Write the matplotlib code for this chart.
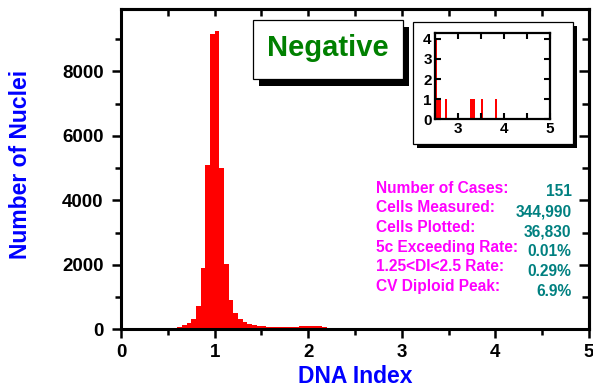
import matplotlib
matplotlib.use("Agg")
import matplotlib.pyplot as plt
from matplotlib.patches import Rectangle

plt.rcParams['font.family'] = ['Liberation Sans', 'DejaVu Sans']
plt.rcParams['font.weight'] = 'bold'

# ---- data ----
bin_start = [0.50, 0.55, 0.60, 0.65, 0.70, 0.75, 0.80, 0.85, 0.90, 0.95,
             1.00, 1.05, 1.10, 1.15, 1.20, 1.25, 1.30, 1.35, 1.40, 1.45,
             1.50, 1.55, 1.60, 1.65, 1.70, 1.75, 1.80, 1.85, 1.90, 1.95,
             2.00, 2.05, 2.10, 2.15, 2.20, 2.25]
counts = [40, 50, 60, 125, 205, 330, 710, 1910, 5090, 9150,
          9240, 5010, 2015, 910, 515, 330, 215, 165, 130, 100,
          90, 80, 75, 70, 70, 70, 75, 85, 100, 110,
          105, 100, 90, 80, 55, 30]
bin_width = 0.05

inset_di = [2.525, 2.575, 2.62, 2.755, 3.285, 3.345, 3.525, 3.83]
inset_counts = [4, 1, 1, 1, 1, 1, 1, 1]

stat_labels = ["Number of Cases:", "Cells Measured:", "Cells Plotted:",
               "5c Exceeding Rate:", "1.25<DI<2.5 Rate:", "CV Diploid Peak:"]
stat_values = ["151", "344,990", "36,830", "0.01%", "0.29%", "6.9%"]

title_text = "Negative"
xlabel = "DNA Index"
ylabel = "Number of Nuclei"

# ---- layout helpers ----
W, H = 593, 390
fig = plt.figure(figsize=(W / 100, H / 100), dpi=100)
fig.patch.set_facecolor('white')

def fx(px):
    return px / W

def fy(py):
    return 1 - py / H

# ---- main axes ----
ax = fig.add_axes([fx(121), fy(329.3), (589 - 121) / W, (329.3 - 9) / H])
ax.bar(bin_start, counts, width=bin_width, align='edge', color='#FF0000',
       edgecolor='none', linewidth=0)
ax.set_xlim(0, 5)
ax.set_ylim(0, 9930)
ax.set_xticks([0, 1, 2, 3, 4, 5])
ax.set_xticks([0.5, 1.5, 2.5, 3.5, 4.5], minor=True)
ax.set_yticks([0, 2000, 4000, 6000, 8000])
ax.set_yticks([1000, 3000, 5000, 7000, 9000], minor=True)
for s in ax.spines.values():
    s.set_linewidth(2.2)
ax.tick_params(which='major', direction='out', length=6.5, width=1.8,
               labelsize=13.5, pad=4)
ax.tick_params(axis='y', which='major', pad=6)
ax.tick_params(which='minor', direction='out', length=4, width=1.8)

secx = ax.secondary_xaxis('top')
secx.set_xticks([0, 1, 2, 3, 4, 5])
secx.set_xticks([0.5, 1.5, 2.5, 3.5, 4.5], minor=True)
secx.tick_params(which='both', direction='in', length=5, width=1.8,
                 labeltop=False)
secx.spines['top'].set_linewidth(2.2)
secy = ax.secondary_yaxis('right')
secy.set_yticks([0, 2000, 4000, 6000, 8000])
secy.set_yticks([1000, 3000, 5000, 7000, 9000], minor=True)
secy.tick_params(which='major', direction='in', length=7, width=1.8,
                 labelright=False)
secy.tick_params(which='minor', direction='in', length=5, width=1.8,
                 labelright=False)
secy.spines['right'].set_linewidth(2.2)

ax.set_xlabel(xlabel, color='#0000FF', fontsize=16.5, fontweight='bold')
ax.xaxis.set_label_coords(0.5, -0.112)
ax.set_ylabel(ylabel, color='#0000FF', fontsize=16.5, fontweight='bold')
ax.yaxis.set_label_coords(-0.19, 0.516)

# ---- "Negative" box with shadow ----
fig.add_artist(Rectangle((fx(259.2), fy(85.7)), (150) / W, (58.7) / H,
                         transform=fig.transFigure, facecolor='black',
                         edgecolor='none', zorder=3))
fig.add_artist(Rectangle((fx(252.7), fy(78.7)), (150) / W, (58.7) / H,
                         transform=fig.transFigure, facecolor='white',
                         edgecolor='black', linewidth=0.9, zorder=4))
fig.text(fx(328), fy(48), title_text, color='#008000', fontsize=21,
         fontweight='bold', ha='center', va='center', zorder=5)

# ---- inset box with shadow ----
fig.add_artist(Rectangle((fx(417), fy(148)), (159.7) / W, (122.3) / H,
                         transform=fig.transFigure, facecolor='black',
                         edgecolor='none', zorder=3))
fig.add_artist(Rectangle((fx(413), fy(144)), (159.7) / W, (122.3) / H,
                         transform=fig.transFigure, facecolor='white',
                         edgecolor='black', linewidth=0.9, zorder=4))

ins = fig.add_axes([fx(434.5), fy(119.3), (550 - 434.5) / W, (119.3 - 32.7) / H],
                   zorder=6)
ins.bar(inset_di, inset_counts, width=0.045, color='#FF0000',
        edgecolor='none', linewidth=0)
ins.set_xlim(2.5, 5)
ins.set_ylim(0, 4.3)
ins.set_xticks([3, 4, 5])
ins.set_xticks([2.5, 3.5, 4.5], minor=True)
ins.set_yticks([0, 1, 2, 3, 4])
for s in ins.spines.values():
    s.set_linewidth(1.6)
ins.tick_params(which='both', direction='in', length=4, width=1.5,
                top=True, right=True, labelsize=11, pad=2)

# ---- statistics text ----
label_y = [188.3, 208.0, 227.6, 247.2, 266.8, 286.4]
value_y = [191.7, 211.7, 231.7, 251.5, 271.0, 291.5]
for lab, yy in zip(stat_labels, label_y):
    fig.text(fx(376), fy(yy), lab, color='#FF00FF', fontsize=11.2,
             fontweight='bold', ha='left', va='center', zorder=7)
for val, yy in zip(stat_values, value_y):
    fig.text(fx(571.5), fy(yy), val, color='#008080', fontsize=11.2,
             fontweight='bold', ha='right', va='center', zorder=7)

fig.savefig('out.png', dpi=100, facecolor='white')
